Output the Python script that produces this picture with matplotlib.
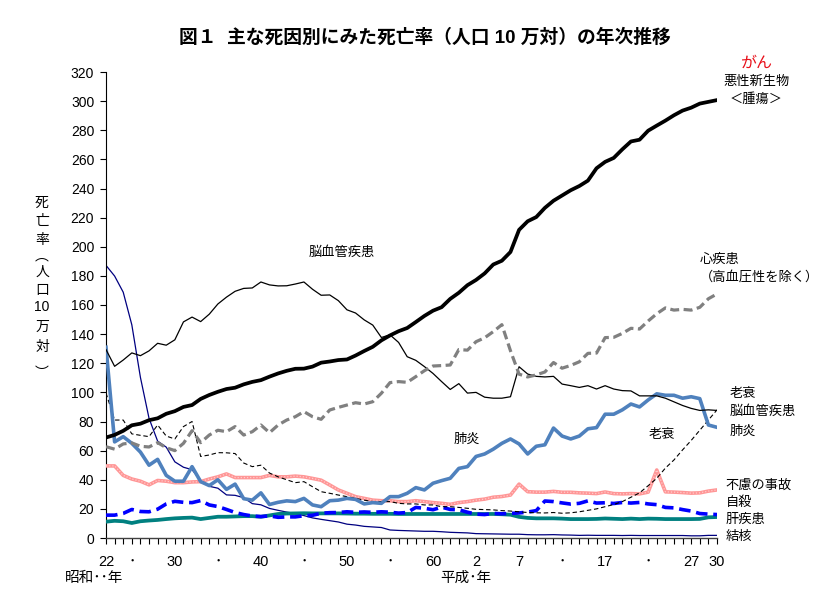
import matplotlib
matplotlib.use("Agg")
import matplotlib.pyplot as plt
import numpy as np

plt.rcParams["font.family"] = ["Liberation Sans", "Noto Sans CJK JP", "DejaVu Sans"]

# 昭和22年(1947) - 平成30年(2018), 人口10万対
years = np.arange(1947, 2019)

cancer = [
    69.0, 70.8, 73.6, 77.4, 78.5, 80.9, 82.2, 85.3, 87.1, 90.0,
    91.3, 95.5, 98.2, 100.4, 102.3, 103.2, 105.5, 107.2, 108.4, 110.8,
    113.0, 114.8, 116.2, 116.3, 117.7, 120.4, 121.2, 122.2, 122.6, 125.3,
    128.4, 131.3, 135.7, 139.1, 142.0, 144.2, 148.3, 152.5, 156.1, 158.5,
    164.2, 168.4, 173.6, 177.2, 181.7, 187.8, 190.4, 196.4, 211.6, 217.5,
    220.4, 226.7, 231.6, 235.2, 238.8, 241.7, 245.4, 253.9, 258.3, 261.0,
    266.9, 272.3, 273.5, 279.7, 283.2, 286.6, 290.3, 293.5, 295.5, 298.3,
    299.5, 300.7,
]
heart = [
    62.7, 61.0, 64.6, 65.3, 63.0, 62.5, 65.5, 62.0, 60.0, 65.0,
    73.7, 65.5, 70.7, 74.0, 73.0, 76.5, 70.7, 73.0, 77.6, 72.3,
    77.6, 81.0, 83.3, 86.8, 83.3, 81.5, 87.9, 89.7, 91.3, 92.9,
    92.0, 93.6, 99.4, 106.7, 107.4, 106.9, 110.8, 114.9, 118.1, 118.4,
    118.8, 129.4, 129.0, 134.8, 137.5, 141.7, 146.5, 128.6, 112.5, 110.6,
    112.0, 114.0, 120.5, 116.6, 118.5, 121.0, 126.8, 127.0, 137.6, 137.8,
    140.5, 144.0, 143.5, 149.0, 154.0, 158.0, 156.5, 157.0, 156.5, 158.4,
    164.3, 167.6,
]
cerebro = [
    129.4, 117.9, 122.2, 127.1, 125.2, 128.5, 133.7, 132.4, 136.1, 148.4,
    151.7, 148.6, 153.7, 160.7, 165.4, 169.4, 171.4, 171.7, 175.8, 173.8,
    173.1, 173.2, 174.4, 175.8, 170.8, 166.7, 166.9, 163.0, 156.7, 154.5,
    149.8, 146.2, 137.7, 139.5, 134.3, 124.5, 122.0, 117.7, 113.0, 107.4,
    102.0, 106.0, 99.5, 100.0, 96.7, 96.0, 96.0, 97.0, 117.6, 112.6,
    111.0, 110.6, 111.0, 105.7, 104.6, 103.4, 104.6, 102.3, 104.6, 102.3,
    101.2, 101.0, 97.6, 97.6, 97.6, 96.0, 93.5, 91.0, 89.0, 87.6,
    88.0, 87.6,
]
pneumonia = [
    131.0, 66.0, 69.6, 65.0, 59.0, 50.0, 54.0, 43.0, 39.0, 39.0,
    49.0, 38.7, 36.0, 40.0, 33.4, 37.0, 27.0, 26.0, 31.0, 23.0,
    24.5, 25.5, 25.0, 27.2, 22.7, 21.5, 25.6, 26.0, 27.2, 26.5,
    23.4, 24.3, 23.8, 28.4, 28.4, 30.7, 34.6, 33.0, 37.6, 39.4,
    41.0, 47.8, 49.0, 56.0, 57.7, 61.0, 65.0, 68.0, 64.6, 57.7,
    63.0, 64.0, 75.5, 70.0, 68.0, 70.0, 75.0, 75.8, 85.0, 85.0,
    88.0, 92.0, 90.0, 94.8, 99.0, 98.0, 98.0, 96.0, 97.0, 95.7,
    77.6, 76.0,
]
senility = [
    99.6, 81.0, 81.0, 71.5, 70.5, 69.6, 77.6, 70.0, 68.0, 76.5,
    80.0, 56.0, 57.0, 58.6, 58.5, 58.0, 51.5, 49.0, 50.0, 44.6,
    42.0, 40.0, 38.0, 38.7, 35.2, 31.8, 30.7, 29.5, 28.4, 27.2,
    26.0, 25.0, 25.0, 25.0, 23.8, 23.4, 23.4, 22.7, 22.7, 21.5,
    21.5, 21.0, 20.4, 19.7, 19.5, 19.3, 18.8, 18.5, 18.0, 17.5,
    17.3, 17.2, 17.5, 17.0, 17.3, 18.0, 19.0, 20.0, 21.5, 23.0,
    25.0, 28.0, 31.0, 35.9, 41.0, 48.0, 53.6, 60.5, 67.0, 74.0,
    81.0, 88.0,
]
accident = [
    49.5, 49.5, 43.0, 40.5, 39.0, 36.5, 39.5, 39.0, 38.0, 38.0,
    38.5, 38.7, 40.5, 42.0, 44.0, 41.5, 41.5, 41.5, 41.5, 43.0,
    42.0, 42.0, 42.5, 42.0, 40.9, 39.7, 36.4, 33.0, 30.7, 28.4,
    27.2, 26.0, 25.6, 25.6, 25.0, 25.0, 25.6, 25.0, 24.3, 23.8,
    23.1, 24.3, 25.0, 26.0, 26.7, 28.0, 28.5, 29.5, 37.0, 31.8,
    31.5, 31.5, 32.0, 31.4, 31.4, 31.0, 30.8, 30.5, 31.6, 30.5,
    30.3, 30.5, 30.3, 31.5, 46.7, 31.7, 31.5, 31.2, 30.8, 31.0,
    32.2, 33.0,
]
suicide = [
    15.7, 15.7, 16.9, 19.6, 18.2, 18.0, 19.8, 23.4, 25.2, 24.5,
    24.3, 25.7, 22.7, 21.6, 19.6, 17.5, 16.1, 15.1, 14.7, 15.2,
    14.2, 14.5, 14.5, 15.3, 15.6, 17.0, 17.4, 17.5, 18.0, 17.6,
    17.9, 17.6, 18.0, 17.7, 17.1, 17.5, 21.0, 20.4, 19.4, 21.2,
    19.6, 19.4, 17.7, 16.4, 16.1, 16.9, 16.6, 16.9, 17.2, 17.8,
    18.8, 25.4, 25.0, 24.1, 23.3, 23.8, 25.5, 24.0, 24.2, 23.7,
    24.4, 24.0, 24.4, 23.4, 22.9, 21.0, 20.7, 19.5, 18.5, 16.8,
    16.4, 16.1,
]
liver = [
    11.2, 11.8, 11.5, 10.3, 11.5, 12.0, 12.4, 13.0, 13.5, 13.8,
    14.0, 13.0, 13.8, 14.6, 14.6, 14.8, 15.0, 15.0, 14.6, 15.5,
    16.5, 16.8, 16.9, 17.0, 16.9, 16.9, 16.9, 16.9, 16.8, 16.7,
    16.7, 16.6, 16.6, 16.6, 16.5, 16.5, 16.5, 16.5, 16.5, 16.5,
    16.5, 16.5, 16.5, 16.5, 16.5, 16.5, 16.3, 16.0, 14.5, 13.8,
    13.5, 13.5, 13.5, 13.3, 13.0, 13.0, 13.0, 13.1, 13.4, 13.2,
    13.0, 13.3, 13.0, 13.3, 13.2, 13.0, 13.0, 13.0, 13.0, 13.1,
    14.2, 14.4,
]
tuberculosis = [
    187.2, 179.9, 168.8, 146.4, 110.3, 82.2, 66.5, 62.4, 52.3, 48.6,
    46.9, 39.5, 35.5, 34.2, 29.6, 29.3, 27.7, 23.6, 22.8, 20.3,
    19.0, 17.8, 16.8, 15.4, 13.8, 12.8, 11.9, 11.0, 9.5, 8.9,
    8.0, 7.6, 7.2, 5.5, 5.2, 5.0, 4.8, 4.6, 4.6, 4.3,
    3.9, 3.7, 3.5, 3.0, 2.9, 2.8, 2.7, 2.6, 2.6, 2.3,
    2.2, 2.2, 2.3, 2.1, 2.0, 1.8, 1.9, 1.8, 1.8, 1.8,
    1.7, 1.8, 1.7, 1.7, 1.7, 1.7, 1.7, 1.7, 1.5, 1.5,
    1.8, 1.8,
]

tick_years = [1947, 1950, 1955, 1960, 1965, 1970, 1975, 1980, 1985,
              1990, 1995, 2000, 2005, 2010, 2015, 2018]
tick_labels = ["22", "･", "30", "･", "40", "･", "50", "･", "60",
               "2", "7", "･", "17", "･", "27", "30"]

fig = plt.figure(figsize=(8.23, 5.94), dpi=100)
ax = fig.add_axes([106 / 823, 1 - 538 / 594, 611 / 823, 466 / 594])

ax.plot(years, tuberculosis, color="#000080", lw=0.9, zorder=2)
ax.plot(years, liver, color="#008080", lw=2.7, zorder=3)
ax.plot(years, suicide, color="#0000ff", lw=2.6, ls=(0, (3.2, 1.6)), zorder=3)
ax.plot(years, accident, color="#ff9696", lw=2.6, zorder=3)
ax.plot(years, accident, color="#ffcccc", lw=0.9, ls=(0, (1, 1.5)), zorder=3)
ax.plot(years, senility, color="black", lw=0.8, ls=(0, (4, 2.5)), zorder=4)
ax.plot(years, pneumonia, color="#4f81bd", lw=2.6, zorder=4)
ax.plot(years, cerebro, color="black", lw=0.9, zorder=5)
ax.plot(years, heart, color="#808080", lw=2.3, ls=(0, (2.8, 1.4)), zorder=5)
ax.plot(years, cancer, color="black", lw=2.7, zorder=6)

ax.set_xlim(1947, 2018)
ax.set_ylim(0, 320)
ax.set_yticks(np.arange(0, 321, 20))
ax.set_xticks(tick_years)
ax.set_xticklabels(tick_labels)
ax.set_xticks(years, minor=True)
ax.tick_params(axis="y", direction="out", length=4.5, width=0.8, labelsize=10, pad=4)
ax.tick_params(axis="x", which="both", direction="out", length=4, width=0.8,
               labelsize=10.5, pad=8)
for side in ("top", "right"):
    ax.spines[side].set_visible(False)
ax.spines["left"].set_linewidth(0.8)
ax.spines["bottom"].set_linewidth(1.0)
ax.spines["bottom"].set_color("#404040")

# 系列ラベル
fs = 9.5
ax.text(2022.6, 326, "がん", color="#e8101a", fontsize=11.5, ha="center", va="center")
ax.text(2022.6, 313, "悪性新生物", fontsize=fs, ha="center", va="center")
ax.text(2022.6, 300.8, "＜腫瘍＞", fontsize=fs, ha="center", va="center")
ax.text(2016.0, 191, "心疾患", fontsize=fs, ha="left", va="center")
ax.text(2016.0, 179, "（高血圧性を除く）", fontsize=fs, ha="left", va="center")
ax.text(1970.5, 195.7, "脳血管疾患", fontsize=fs, ha="left", va="center")
ax.text(1987.4, 67.3, "肺炎", fontsize=fs, ha="left", va="center")
ax.text(2010.0, 70.7, "老衰", fontsize=fs, ha="left", va="center")
ax.text(2019.5, 98.9, "老衰", fontsize=fs, ha="left", va="center")
ax.text(2019.5, 86.5, "脳血管疾患", fontsize=fs, ha="left", va="center")
ax.text(2019.5, 72.8, "肺炎", fontsize=fs, ha="left", va="center")
ax.text(2019.0, 35.7, "不慮の事故", fontsize=fs, ha="left", va="center")
ax.text(2019.0, 24.0, "自殺", fontsize=fs, ha="left", va="center")
ax.text(2019.0, 12.4, "肝疾患", fontsize=fs, ha="left", va="center")
ax.text(2019.0, 0.7, "結核", fontsize=fs, ha="left", va="center")

# 縦書きの軸ラベル
ylabel_chars = ["死", "亡", "率", "︵", "人", "口", "10", "万", "対", "︶"]
ylabel_pos = [203, 221, 240, 256, 272, 290, 307, 327, 347, 373]
for ch, py in zip(ylabel_chars, ylabel_pos):
    fig.text(42 / 823, 1 - py / 594, ch, fontsize=10, ha="center", va="center")

fig.text(65 / 823, 1 - 578 / 594, "昭和･･年", fontsize=10.5, ha="left", va="center")
fig.text(440 / 823, 1 - 578 / 594, "平成･年", fontsize=10.5, ha="left", va="center")

fig.text(425 / 823, 1 - 38 / 594,
         "図１  主な死因別にみた死亡率（人口 10 万対）の年次推移",
         fontsize=13.5, fontweight="bold", ha="center", va="center")

fig.savefig("out.png", dpi=100)
